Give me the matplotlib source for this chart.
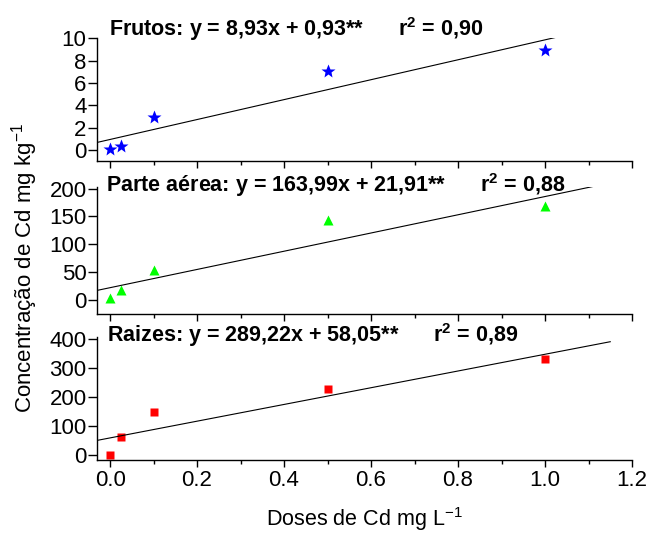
import matplotlib
matplotlib.use("Agg")
import matplotlib.pyplot as plt
from matplotlib.ticker import MultipleLocator

plt.rcParams["font.family"] = ["Liberation Sans", "DejaVu Sans"]
plt.rcParams["mathtext.fontset"] = "custom"
plt.rcParams["mathtext.rm"] = "Liberation Sans"
plt.rcParams["mathtext.bf"] = "Liberation Sans:bold"

# ── dados ────────────────────────────────────────────────────────────────
doses = [0.0, 0.025, 0.1, 0.5, 1.0]

frutos = [0.05, 0.35, 2.95, 7.05, 8.95]
parte_aerea = [2.5, 18.5, 54.5, 143.0, 169.0]
raizes = [0.0, 60.0, 147.0, 226.0, 332.0]

# coeficientes das regressões (a, b)
reg_frutos = (8.93, 0.93)
reg_parte = (163.99, 21.91)
reg_raizes = (289.22, 58.05)

titulos = [
    "Frutos: y = 8,93x + 0,93**      r$^{\\mathbf{2}}$ = 0,90",
    "Parte aérea: y = 163,99x + 21,91**      r$^{\\mathbf{2}}$ = 0,88",
    "Raizes: y = 289,22x + 58,05**      r$^{\\mathbf{2}}$ = 0,89",
]
yticks = [[0, 2, 4, 6, 8, 10], [0, 50, 100, 150, 200], [0, 100, 200, 300, 400]]
xticks = [0.0, 0.2, 0.4, 0.6, 0.8, 1.0, 1.2]

# ── layout ───────────────────────────────────────────────────────────────
fig = plt.figure(figsize=(6.49, 5.37), dpi=100)
L, W = 0.1495, 0.8243
boxes = [(0.7002, 0.2285), (0.4147, 0.2370), (0.1425, 0.2305)]
ylims = [(-1.0, 10.0), (-26, 203), (-20, 408)]
title_pos = [(-0.002, 10.2), (-0.009, 194.6), (-0.006, 388.6)]

series = [
    (frutos, reg_frutos, dict(marker="*", color="#0000FF", ms=10.5)),
    (parte_aerea, reg_parte, dict(marker="^", color="#00FF00", ms=7)),
    (raizes, reg_raizes, dict(marker="s", color="#FF0000", ms=5.5)),
]

axes = []
for i, ((ys, (a, b), st), (bot, h)) in enumerate(zip(series, boxes)):
    ax = fig.add_axes([L, bot, W, h])
    axes.append(ax)
    ax.plot(doses, ys, ls="none", mec="none", **st)
    xl = [-0.03, 1.15]
    ax.plot(xl, [a * x + b for x in xl], color="black", lw=0.8)

    ax.set_xlim(-0.03, 1.2)
    ax.set_ylim(*ylims[i])
    ax.set_yticks(yticks[i])
    ax.set_xticks(xticks)
    ax.xaxis.set_minor_locator(MultipleLocator(0.1))
    ax.spines["top"].set_visible(False)
    ax.spines["right"].set_visible(False)
    for s in ("left", "bottom"):
        ax.spines[s].set_linewidth(1.0)
    ax.tick_params(axis="y", which="major", direction="out", length=6.5,
                   width=1.0, labelsize=16, pad=1)
    ax.tick_params(axis="x", which="major", direction="out", length=5,
                   width=1.0, labelsize=16, pad=2)
    ax.tick_params(axis="x", which="minor", direction="out", length=3, width=1.0)
    if i < 2:
        ax.tick_params(axis="x", labelbottom=False)
    else:
        ax.set_xticklabels([f"{t:.1f}" for t in xticks])

    tx, ty = title_pos[i]
    ax.text(tx, ty, titulos[i], fontsize=15.5, fontweight="bold",
            ha="left", va="baseline", clip_on=False)

axes[2].set_xlabel("Doses de Cd mg L$^{-1}$", fontsize=15.5, labelpad=10)
fig.text(0.038, 0.501, "Concentração de Cd mg kg$^{-1}$",
         rotation=90, fontsize=16, ha="center", va="center")

fig.savefig("out.png", dpi=100, facecolor="white")
